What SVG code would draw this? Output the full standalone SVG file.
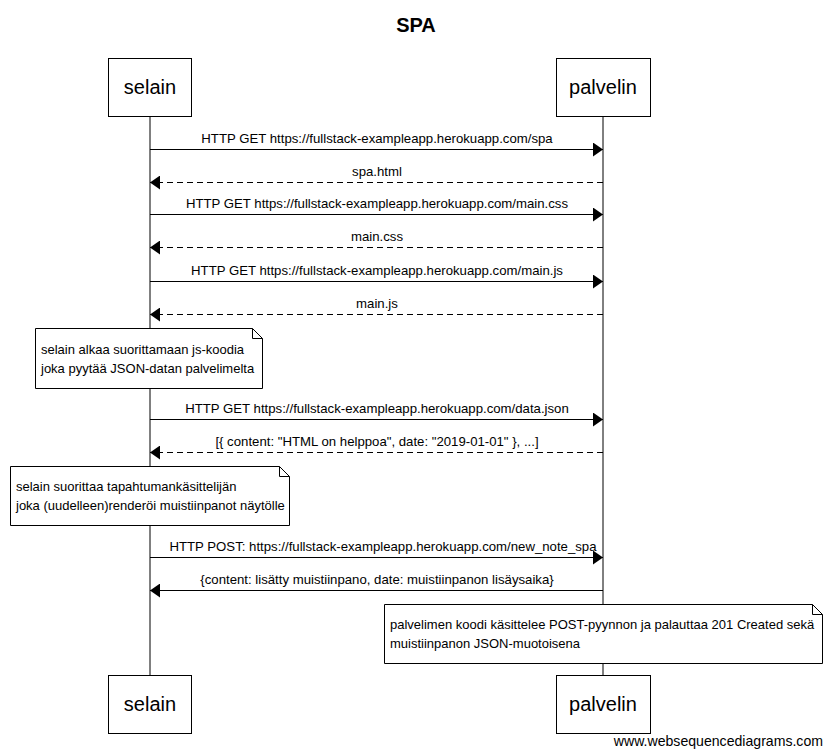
<svg xmlns="http://www.w3.org/2000/svg" width="832" height="756" viewBox="0 0 832 756">
<defs>
<style>
text{font-family:"Liberation Sans",Arial,sans-serif;fill:#000}
.t{font-size:20px;font-weight:bold;text-anchor:middle}
.p{font-size:20px;text-anchor:middle}
.m{font-size:13.2px;text-anchor:middle}
.n{font-size:13px}
.f{font-size:14.1px;text-anchor:end}
.box{fill:#fff;stroke:#000;stroke-width:1}
.life{stroke:#000;stroke-width:1}
.msg{stroke:#000;stroke-width:1;fill:none}
.dash{stroke-dasharray:6,4}
</style>
<marker id="ah" viewBox="0 0 10 14" refX="10" refY="7" markerWidth="10" markerHeight="14" markerUnits="userSpaceOnUse" orient="auto">
<path d="M0,0 L10,7 L0,14 Z" fill="#000"/>
</marker>
</defs>
<rect width="832" height="756" fill="#fff"/>
<text class="t" x="416" y="32">SPA</text>
<g id="lifelines">
<line class="life" x1="150" y1="116" x2="150" y2="675"/>
<line class="life" x1="603" y1="116" x2="603" y2="675"/>
</g>
<g id="selain">
<rect class="box" x="108.5" y="58.5" width="83" height="58"/>
<text class="p" x="150" y="94">selain</text>
</g>
<g id="palvelin">
<rect class="box" x="556.5" y="58.5" width="94" height="58"/>
<text class="p" x="603" y="94">palvelin</text>
</g>
<g id="selain-bottom">
<rect class="box" x="108.5" y="675.5" width="83" height="58"/>
<text class="p" x="150" y="711">selain</text>
</g>
<g id="palvelin-bottom">
<rect class="box" x="556.5" y="675.5" width="94" height="58"/>
<text class="p" x="603" y="711">palvelin</text>
</g>
<g id="connectors">
<line class="msg" x1="150" y1="149.5" x2="603" y2="149.5" marker-end="url(#ah)"/>
<text class="m" x="377" y="143">HTTP GET https://fullstack-exampleapp.herokuapp.com/spa</text>
<line class="msg dash" x1="603" y1="182.5" x2="150" y2="182.5" marker-end="url(#ah)"/>
<text class="m" x="377" y="176">spa.html</text>
<line class="msg" x1="150" y1="214.5" x2="603" y2="214.5" marker-end="url(#ah)"/>
<text class="m" x="377" y="208">HTTP GET https://fullstack-exampleapp.herokuapp.com/main.css</text>
<line class="msg dash" x1="603" y1="247.5" x2="150" y2="247.5" marker-end="url(#ah)"/>
<text class="m" x="377" y="241">main.css</text>
<line class="msg" x1="150" y1="281.5" x2="603" y2="281.5" marker-end="url(#ah)"/>
<text class="m" x="377" y="275">HTTP GET https://fullstack-exampleapp.herokuapp.com/main.js</text>
<line class="msg dash" x1="603" y1="314.5" x2="150" y2="314.5" marker-end="url(#ah)"/>
<text class="m" x="377" y="308">main.js</text>
<line class="msg" x1="150" y1="419.5" x2="603" y2="419.5" marker-end="url(#ah)"/>
<text class="m" x="377" y="413">HTTP GET https://fullstack-exampleapp.herokuapp.com/data.json</text>
<line class="msg dash" x1="603" y1="452.5" x2="150" y2="452.5" marker-end="url(#ah)"/>
<text class="m" x="377" y="446">[{ content: "HTML on helppoa", date: "2019-01-01" }, ...]</text>
<line class="msg" x1="150" y1="557.5" x2="603" y2="557.5" marker-end="url(#ah)"/>
<text class="m" x="383" y="551">HTTP POST: https://fullstack-exampleapp.herokuapp.com/new_note_spa</text>
<line class="msg" x1="603" y1="590.5" x2="150" y2="590.5" marker-end="url(#ah)"/>
<text class="m" x="377" y="584">{content: lisätty muistiinpano, date: muistiinpanon lisäysaika}</text>
</g>
<g id="note1">
<path class="box" d="M35.5,328.5 H252.5 L262.5,338.5 V388.5 H35.5 Z"/>
<path class="msg" d="M252.5,328.5 V338.5 H262.5"/>
<text class="n" x="41" y="354">selain alkaa suorittamaan js-koodia</text>
<text class="n" x="41" y="373">joka pyytää JSON-datan palvelimelta</text>
</g>
<g id="note2">
<path class="box" d="M10.5,466.5 H279.5 L289.5,476.5 V525.5 H10.5 Z"/>
<path class="msg" d="M279.5,466.5 V476.5 H289.5"/>
<text class="n" x="16" y="491">selain suorittaa tapahtumankäsittelijän</text>
<text class="n" x="16" y="510">joka (uudelleen)renderöi muistiinpanot näytölle</text>
</g>
<g id="note3">
<path class="box" d="M384.5,604.5 H812.5 L822.5,614.5 V663.5 H384.5 Z"/>
<path class="msg" d="M812.5,604.5 V614.5 H822.5"/>
<text class="n" x="390" y="629">palvelimen koodi käsittelee POST-pyynnon ja palauttaa 201 Created sekä</text>
<text class="n" x="390" y="648">muistiinpanon JSON-muotoisena</text>
</g>
<text class="f" x="823" y="746">www.websequencediagrams.com</text>
</svg>
